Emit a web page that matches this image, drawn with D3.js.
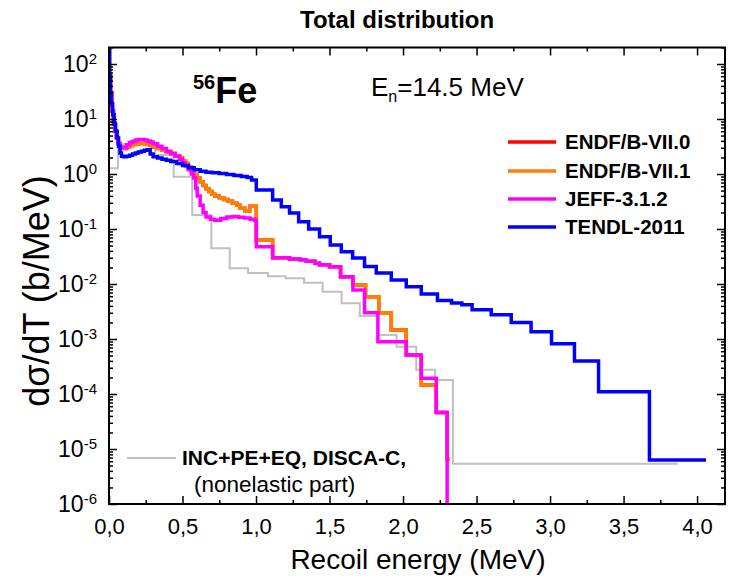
<!DOCTYPE html>
<html>
<head>
<meta charset="utf-8">
<script src="https://cdn.jsdelivr.net/npm/d3@7"></script>
<style>
  body { margin: 0; background: #fff; }
  svg { font-family: "Liberation Sans", Arial, sans-serif; }
</style>
</head>
<body>
<svg id="chart" width="729" height="577"></svg>
<script>
// bin edges (MeV) and bin values (b/MeV)
var tendlE = [0, 0.005, 0.010, 0.016, 0.025, 0.035, 0.045, 0.055, 0.065, 0.075, 0.085, 0.10, 0.12, 0.14, 0.16, 0.18, 0.20, 0.22, 0.24, 0.26, 0.28, 0.30,
  0.33, 0.36, 0.39, 0.42, 0.46, 0.50, 0.54, 0.58, 0.62, 0.66, 0.70, 0.75, 0.80, 0.85, 0.90, 0.94, 0.97, 1.002, 1.113, 1.172, 1.228, 1.29,
  1.358, 1.432, 1.505, 1.58, 1.657, 1.738, 1.818, 1.92, 2.022, 2.124, 2.234, 2.33, 2.40, 2.47, 2.60, 2.736, 2.871, 3.01, 3.166, 3.33, 3.676, 4.061];
var tendlV = [180, 60, 30, 19, 12, 8, 6, 4.5, 3.2, 2.4, 2.1, 2.05, 2.1, 2.2, 2.3, 2.4, 2.5, 2.6, 2.7, 2.75, 2.3,
  2.05, 1.95, 1.85, 1.78, 1.68, 1.55, 1.42, 1.30, 1.20, 1.12, 1.08, 1.05, 1.02, 0.98, 0.94, 0.90, 0.86, 0.78, 0.51, 0.337, 0.254, 0.195,
  0.136, 0.1, 0.0724, 0.0512, 0.0387, 0.0297, 0.0207, 0.0158, 0.0118, 0.0089, 0.0066, 0.0050, 0.0045, 0.0042, 0.0034, 0.00275, 0.0020,
  0.00135, 0.00082, 0.00040, 0.00011, 6.3e-6];

var endf71E = [0, 0.010, 0.020, 0.030, 0.040, 0.050, 0.060, 0.075, 0.095, 0.12, 0.14, 0.16, 0.18, 0.20, 0.22, 0.24, 0.26, 0.28, 0.30, 0.33,
  0.36, 0.39, 0.42, 0.45, 0.48, 0.50, 0.52, 0.54, 0.56, 0.58, 0.60, 0.62, 0.64, 0.66, 0.68, 0.70, 0.72, 0.75, 0.78, 0.81, 0.84, 0.87, 0.89,
  0.923, 0.957, 1.002, 1.113, 1.228, 1.30, 1.342, 1.40, 1.432, 1.50, 1.575, 1.659, 1.745, 1.835, 1.92, 2.022, 2.124, 2.226, 2.30, 2.32];
var endf71V = [60, 30, 14, 8.5, 6, 4.6, 3.6, 3.0, 2.9, 3.1, 3.3, 3.45, 3.55, 3.6, 3.6, 3.55, 3.45, 3.3, 3.1, 2.9, 2.7, 2.55, 2.35, 2.15,
  1.95, 1.75, 1.55, 1.36, 1.15, 0.98, 0.85, 0.72, 0.62, 0.54, 0.48, 0.43, 0.40, 0.37, 0.345, 0.32, 0.295, 0.27, 0.238, 0.21, 0.26, 0.063,
  0.030, 0.0285, 0.0275, 0.026, 0.0238, 0.0225, 0.0205, 0.0136, 0.0096, 0.00588, 0.00301, 0.00146, 0.00051, 0.000146, 4.6e-5, 6.5e-6];

// ENDF/B-VII.0 lies under VII.1 everywhere on the plot
var endf70E = endf71E.slice();
var endf70V = endf71V.slice();

var jeffE = [0, 0.010, 0.020, 0.030, 0.040, 0.050, 0.060, 0.075, 0.095, 0.12, 0.14, 0.16, 0.18, 0.20, 0.22, 0.24, 0.26, 0.28, 0.30, 0.33,
  0.36, 0.39, 0.42, 0.45, 0.48, 0.50, 0.52, 0.54, 0.56, 0.575, 0.59, 0.60, 0.62, 0.64, 0.66, 0.69, 0.72, 0.76, 0.80, 0.84, 0.88, 0.92, 0.96,
  0.99, 1.002, 1.113, 1.228, 1.30, 1.342, 1.40, 1.432, 1.50, 1.575, 1.659, 1.738, 1.829, 2.022, 2.124, 2.226, 2.30, 2.33];
var jeffV = [60, 30, 14, 8.5, 6, 4.6, 3.6, 3.1, 3.0, 3.4, 3.75, 3.95, 4.15, 4.25, 4.25, 4.15, 4.0, 3.8, 3.55, 3.2, 2.9, 2.6, 2.35, 2.1,
  1.85, 1.6, 1.4, 1.2, 1.0, 0.85, 0.55, 0.40, 0.27, 0.20, 0.165, 0.15, 0.145, 0.155, 0.165, 0.168, 0.163, 0.158, 0.15, 0.145, 0.0477,
  0.030, 0.0285, 0.0275, 0.026, 0.0238, 0.0225, 0.0205, 0.0136, 0.0078, 0.0030, 0.00089, 0.00051, 0.000193, 4.6e-5, 1e-9];

var discaE = [0, 0.061, 0.314, 0.44, 0.566, 0.696, 0.821, 0.946, 1.081, 1.201, 1.327, 1.453, 1.582, 1.706, 1.829, 1.956, 2.09, 2.218, 2.339, 3.868];
var discaV = [1.27, 3.51, 2.21, 0.89, 0.18, 0.0446, 0.0193, 0.0158, 0.0138, 0.0127, 0.0105, 0.00725, 0.00445, 0.00263, 0.00118, 0.000724,
  0.000277, 0.000180, 5.4e-6];

var xTicks = [0, 0.5, 1, 1.5, 2, 2.5, 3, 3.5, 4];
var yDecades = [1e-6, 1e-5, 1e-4, 1e-3, 1e-2, 1e-1, 1, 10, 100];
var legendNames = ["ENDF/B-VII.0", "ENDF/B-VII.1", "JEFF-3.1.2", "TENDL-2011"];
var legendColors = ["#FF0000", "#FF8000", "#FF00FF", "#0000FF"];

var svg = d3.select("#chart");
var pL = 109, pR = 725, pT = 47.5, pB = 504;

var x = d3.scaleLinear().domain([0, 4.19]).range([pL, pR]);
var y = d3.scaleLog().domain([1e-6, Math.pow(10, 2.3)]).range([pB, pT]);

svg.append("clipPath").attr("id", "plotclip")
  .append("rect").attr("x", pL).attr("y", pT).attr("width", pR - pL).attr("height", pB - pT);

function steps(edges, vals) {
  return edges.map(function(e, i) { return [e, vals[Math.min(i, vals.length - 1)]]; });
}
var line = d3.line()
  .x(function(d) { return x(d[0]); })
  .y(function(d) { return y(Math.max(d[1], 1e-9)); })
  .curve(d3.curveStepAfter);

var curves = svg.append("g").attr("clip-path", "url(#plotclip)");
curves.append("path").attr("d", line(steps(discaE, discaV))).attr("fill", "none").attr("stroke", "#C0C0C0").attr("stroke-width", 2);
curves.append("path").attr("d", line(steps(endf70E, endf70V))).attr("fill", "none").attr("stroke", legendColors[0]).attr("stroke-width", 3.5);
curves.append("path").attr("d", line(steps(endf71E, endf71V))).attr("fill", "none").attr("stroke", legendColors[1]).attr("stroke-width", 3.5);
curves.append("path").attr("d", line(steps(jeffE, jeffV))).attr("fill", "none").attr("stroke", legendColors[2]).attr("stroke-width", 3.5);
curves.append("path").attr("d", line(steps(tendlE, tendlV))).attr("fill", "none").attr("stroke", legendColors[3]).attr("stroke-width", 3.5);

// axes, ticks pointing inward
var xMinor = d3.range(0.25, 4.2, 0.5);
var yMinor = [];
yDecades.slice(0, -1).forEach(function(d) { for (var k = 2; k <= 9; k++) yMinor.push(d * k); });
yMinor.push(200);

var fmtComma = function(d) { return d3.format(".1f")(d).replace(".", ","); };

svg.append("g").attr("transform", "translate(0," + pB + ")")
  .call(d3.axisBottom(x).tickValues(xTicks).tickSize(-8).tickPadding(14).tickFormat(fmtComma))
  .call(function(g) { g.select(".domain").remove(); g.selectAll("text").attr("font-size", 22).attr("fill", "#000"); });
svg.append("g").attr("transform", "translate(0," + pB + ")")
  .call(d3.axisBottom(x).tickValues(xMinor).tickSize(-4).tickFormat(""))
  .call(function(g) { g.select(".domain").remove(); });
svg.append("g").attr("transform", "translate(0," + pT + ")")
  .call(d3.axisTop(x).tickValues(xTicks).tickSize(-8).tickFormat(""))
  .call(function(g) { g.select(".domain").remove(); });
svg.append("g").attr("transform", "translate(0," + pT + ")")
  .call(d3.axisTop(x).tickValues(xMinor).tickSize(-4).tickFormat(""))
  .call(function(g) { g.select(".domain").remove(); });

svg.append("g").attr("transform", "translate(" + pL + ",0)")
  .call(d3.axisLeft(y).tickValues(yDecades).tickSize(-8).tickPadding(12).tickFormat(function() { return "10"; }))
  .call(function(g) {
    g.select(".domain").remove();
    g.selectAll("text").attr("font-size", 23).attr("fill", "#000")
      .append("tspan").attr("dy", "-0.55em").attr("font-size", 15)
      .text(function(d) { return Math.round(Math.log10(d)); });
  });
svg.append("g").attr("transform", "translate(" + pL + ",0)")
  .call(d3.axisLeft(y).tickValues(yMinor).tickSize(-4).tickFormat(""))
  .call(function(g) { g.select(".domain").remove(); });
svg.append("g").attr("transform", "translate(" + pR + ",0)")
  .call(d3.axisRight(y).tickValues(yDecades).tickSize(-8).tickFormat(""))
  .call(function(g) { g.select(".domain").remove(); });
svg.append("g").attr("transform", "translate(" + pR + ",0)")
  .call(d3.axisRight(y).tickValues(yMinor).tickSize(-4).tickFormat(""))
  .call(function(g) { g.select(".domain").remove(); });
svg.selectAll(".tick line").attr("stroke", "#000").attr("stroke-width", 1.5);

// frame
svg.append("rect").attr("x", pL).attr("y", pT).attr("width", pR - pL).attr("height", pB - pT)
  .attr("fill", "none").attr("stroke", "#000").attr("stroke-width", 2);

// titles
svg.append("text").attr("x", 300).attr("y", 28).text("Total distribution")
  .attr("font-size", 24).attr("font-weight", "bold");
svg.append("text").attr("x", 418).attr("y", 569).attr("text-anchor", "middle")
  .text("Recoil energy (MeV)").attr("font-size", 28);
svg.append("text").attr("transform", "translate(49,291) rotate(-90)").attr("text-anchor", "middle")
  .text("dσ/dT (b/MeV)").attr("font-size", 36);

// annotations
var fe = svg.append("text").attr("x", 193).attr("y", 103).attr("font-weight", "bold");
fe.append("tspan").attr("font-size", 20).attr("dy", -14).text("56");
fe.append("tspan").attr("font-size", 36).attr("dy", 14).text("Fe");
var en = svg.append("text").attr("x", 371).attr("y", 96).attr("font-size", 26);
en.append("tspan").text("E");
en.append("tspan").attr("font-size", 16).attr("dy", 6).text("n");
en.append("tspan").attr("dy", -6).text("=14.5 MeV");

// legend
var legendY = [142, 171, 199, 227];
legendNames.forEach(function(name, i) {
  svg.append("line").attr("x1", 508).attr("x2", 556).attr("y1", legendY[i]).attr("y2", legendY[i])
    .attr("stroke", legendColors[i]).attr("stroke-width", 3.5);
  svg.append("text").attr("x", 565).attr("y", legendY[i]).attr("dy", "0.36em").text(name)
    .attr("font-size", 20.5).attr("font-weight", "bold");
});
svg.append("line").attr("x1", 127).attr("x2", 176).attr("y1", 458).attr("y2", 458)
  .attr("stroke", "#C0C0C0").attr("stroke-width", 2);
svg.append("text").attr("x", 182).attr("y", 465).text("INC+PE+EQ, DISCA-C,")
  .attr("font-size", 21).attr("font-weight", "bold");
svg.append("text").attr("x", 194).attr("y", 492).text("(nonelastic part)").attr("font-size", 22.5);
</script>
</body>
</html>
